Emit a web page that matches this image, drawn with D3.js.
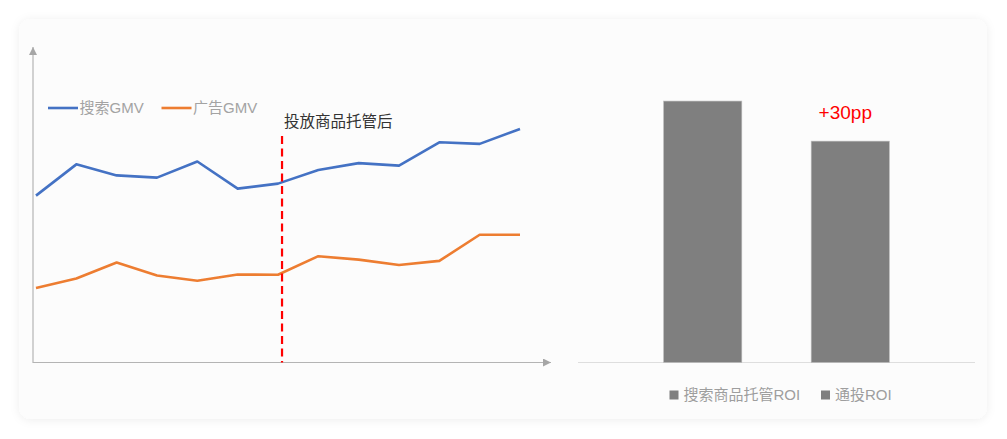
<!DOCTYPE html>
<html>
<head>
<meta charset="utf-8" />
<script src="https://cdn.jsdelivr.net/npm/d3@7/dist/d3.min.js"></script>
<style>
  html,
  body {
    margin: 0;
    padding: 0;
    background: #ffffff;
  }
  svg {
    display: block;
  }
</style>
</head>
<body>
<div id="graphic"></div>
<script>
'use strict';

// Left chart: 13 periods, GMV indices
const periods = d3.range(13);
const searchGMV = [52.9, 62.8, 59.3, 58.6, 63.7, 55.1, 56.7, 61.0, 63.2, 62.4, 69.8, 69.3, 74.0];
const adGMV = [23.6, 26.6, 31.7, 27.6, 25.9, 27.9, 27.8, 33.7, 32.6, 30.9, 32.2, 40.5, 40.5];
const lineNames = [`搜索GMV`, `广告GMV`];
const dividerAt = 6.1;
const dividerLabel = `投放商品托管后`;

// Right chart: ROI bars
const roiCategories = [`搜索商品托管ROI`, `通投ROI`];
const roiValues = [2.61, 2.21];
const roiNote = `+30pp`;

(function (d3) {
  const width = 1007;
  const height = 439;
  const fontFamily = `"Liberation Sans", Arial, "Noto Sans CJK SC", sans-serif`;
  const lineColors = [`#4472c4`, `#ed7d31`];
  const axisColor = `#b4b4b4`;

  const svg = d3.select(`div#graphic`).append(`svg`).attr(`width`, width).attr(`height`, height);

  const defs = svg.append(`defs`);
  const shadow = defs.append(`filter`).attr(`id`, `cardShadow`).attr(`x`, `-5%`).attr(`y`, `-10%`).attr(`width`, `110%`).attr(`height`, `120%`);
  shadow
    .append(`feDropShadow`)
    .attr(`dx`, 0)
    .attr(`dy`, 1)
    .attr(`stdDeviation`, 5)
    .attr(`flood-color`, `#000`)
    .attr(`flood-opacity`, 0.07);

  const arrow = defs
    .append(`marker`)
    .attr(`id`, `arrow`)
    .attr(`viewBox`, `0 0 10 10`)
    .attr(`refX`, 10)
    .attr(`refY`, 5)
    .attr(`markerWidth`, 8)
    .attr(`markerHeight`, 8)
    .attr(`markerUnits`, `userSpaceOnUse`)
    .attr(`orient`, `auto`);
  arrow.append(`path`).attr(`d`, `M0,0L10,5L0,10z`).attr(`fill`, `#a6a6a6`);

  // Card
  svg
    .append(`rect`)
    .attr(`x`, 19)
    .attr(`y`, 19)
    .attr(`width`, 968)
    .attr(`height`, 400)
    .attr(`rx`, 12)
    .attr(`fill`, `#fcfcfc`)
    .attr(`filter`, `url(#cardShadow)`);

  // ---------- Left line chart ----------
  const x = d3.scaleLinear().domain([0, periods.length - 1]).range([36, 520]);
  const y = d3.scaleLinear().domain([0, 100]).range([362.5, 47]);

  const axes = svg.append(`g`).attr(`stroke`, axisColor).attr(`stroke-width`, 1.2);
  axes
    .append(`line`)
    .attr(`x1`, 33)
    .attr(`x2`, 33)
    .attr(`y1`, y(0) + 0.5)
    .attr(`y2`, y(100))
    .attr(`marker-end`, `url(#arrow)`);
  axes
    .append(`line`)
    .attr(`x1`, 33)
    .attr(`x2`, 551)
    .attr(`y1`, y(0))
    .attr(`y2`, y(0))
    .attr(`marker-end`, `url(#arrow)`);

  const line = d3
    .line()
    .x((d, i) => x(periods[i]))
    .y((d) => y(d));

  svg
    .append(`g`)
    .attr(`fill`, `none`)
    .attr(`stroke-width`, 2.6)
    .attr(`stroke-linejoin`, `round`)
    .selectAll(`path`)
    .data([searchGMV, adGMV])
    .join(`path`)
    .attr(`stroke`, (d, i) => lineColors[i])
    .attr(`d`, line);

  // Divider
  svg
    .append(`line`)
    .attr(`x1`, x(dividerAt))
    .attr(`x2`, x(dividerAt))
    .attr(`y1`, 136)
    .attr(`y2`, y(0))
    .attr(`stroke`, `#ff0000`)
    .attr(`stroke-width`, 2.2)
    .attr(`stroke-dasharray`, `8,4.5`);

  svg
    .append(`text`)
    .attr(`x`, x(dividerAt) + 2)
    .attr(`y`, 127)
    .attr(`font-family`, fontFamily)
    .attr(`font-size`, 15.5)
    .attr(`fill`, `#333`)
    .text(dividerLabel);

  // Legend
  const legend = svg
    .append(`g`)
    .attr(`font-family`, fontFamily)
    .attr(`font-size`, 15)
    .selectAll(`g`)
    .data(lineNames)
    .join(`g`)
    .attr(`transform`, (d, i) => `translate(${48 + i * 113.5},108)`);
  legend
    .append(`line`)
    .attr(`x1`, 0)
    .attr(`x2`, 30)
    .attr(`stroke`, (d, i) => lineColors[i])
    .attr(`stroke-width`, 2.6);
  legend
    .append(`text`)
    .attr(`x`, 31.5)
    .attr(`dy`, `0.36em`)
    .attr(`fill`, `#a3a3a3`)
    .text((d) => d);

  // ---------- Right bar chart ----------
  const xb = d3.scaleBand().domain(roiCategories).range([578, 975]).paddingInner(0.47).paddingOuter(0.58);
  const yb = d3.scaleLinear().domain([0, 3]).range([362.5, 62]);

  svg
    .append(`line`)
    .attr(`x1`, 578)
    .attr(`x2`, 975)
    .attr(`y1`, yb(0))
    .attr(`y2`, yb(0))
    .attr(`stroke`, `#dedede`)
    .attr(`stroke-width`, 1);

  svg
    .append(`g`)
    .selectAll(`rect`)
    .data(roiValues)
    .join(`rect`)
    .attr(`x`, (d, i) => xb(roiCategories[i]))
    .attr(`y`, (d) => yb(d))
    .attr(`width`, xb.bandwidth())
    .attr(`height`, (d) => yb(0) - yb(d))
    .attr(`fill`, `#7f7f7f`)
    .attr(`stroke`, `#bdbdbd`)
    .attr(`stroke-width`, 0.6);

  svg
    .append(`text`)
    .attr(`x`, xb(roiCategories[1]) + xb.bandwidth() / 2 - 5)
    .attr(`y`, yb(roiValues[1]) - 22)
    .attr(`text-anchor`, `middle`)
    .attr(`font-family`, fontFamily)
    .attr(`font-size`, 19)
    .attr(`fill`, `#ff0000`)
    .text(roiNote);

  // Bar legend
  const legendItems = svg
    .append(`g`)
    .attr(`font-family`, fontFamily)
    .attr(`font-size`, 15)
    .selectAll(`g`)
    .data(roiCategories)
    .join(`g`)
    .attr(`transform`, (d, i) => `translate(${[669.5, 821][i]},395)`);
  legendItems
    .append(`rect`)
    .attr(`y`, -4.5)
    .attr(`width`, 9)
    .attr(`height`, 9)
    .attr(`fill`, `#7f7f7f`);
  legendItems
    .append(`text`)
    .attr(`x`, 14)
    .attr(`dy`, `0.36em`)
    .attr(`fill`, `#9e9e9e`)
    .text((d) => d);
})(d3);
</script>
</body>
</html>
